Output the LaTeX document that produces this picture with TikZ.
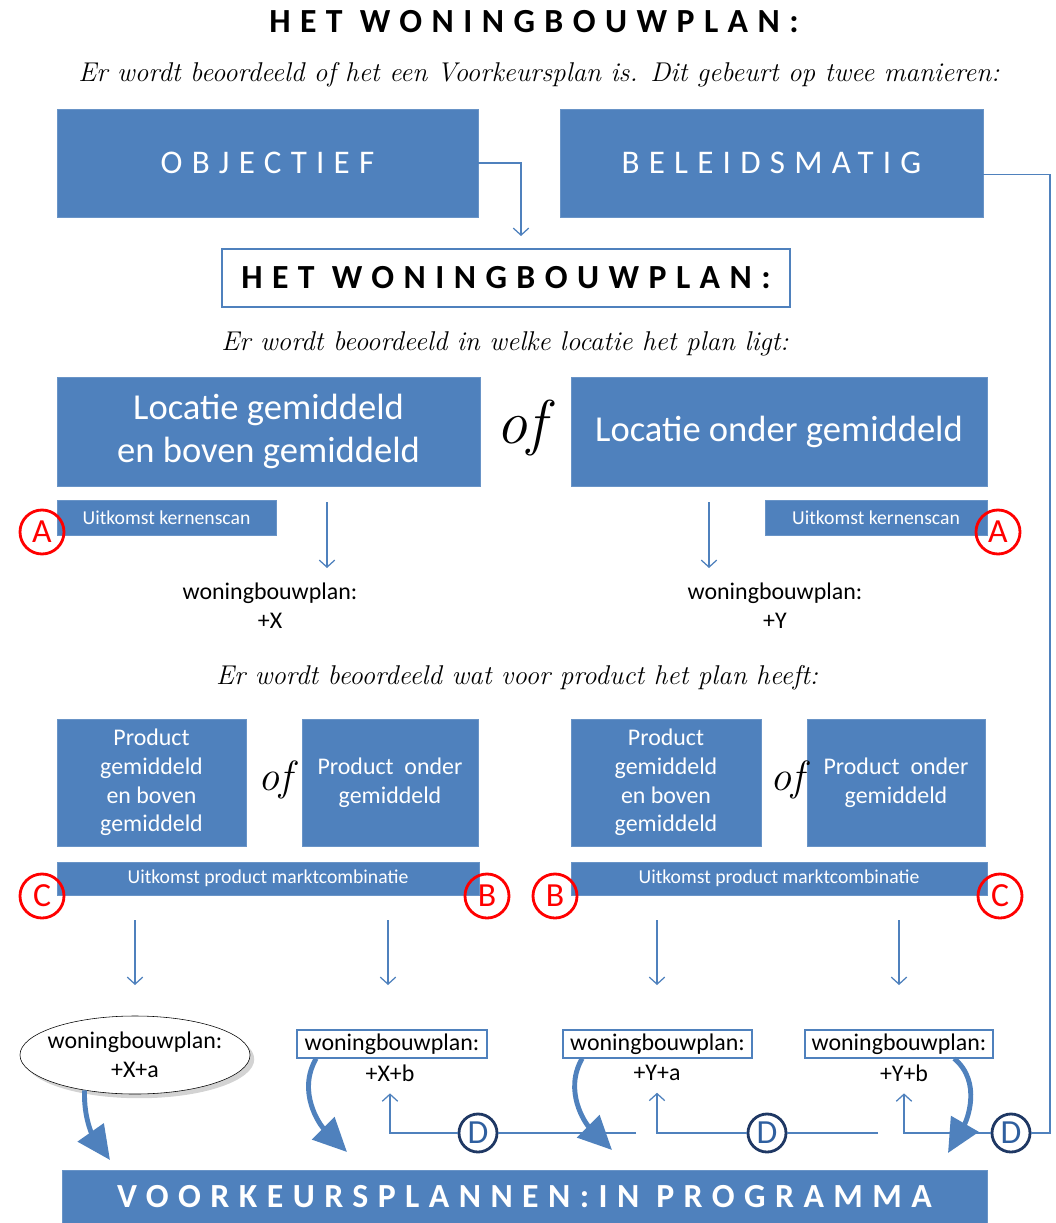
\documentclass[tikz,border=0pt]{standalone}
\usepackage{fontspec}
\usepackage{xcolor}
\usepackage{tikz}
\usetikzlibrary{arrows.meta}
\usetikzlibrary{shapes.geometric, shadows}
\newfontfamily\calibri{Carlito}
\newfontfamily\spatie[LetterSpace=28]{Carlito}
\definecolor{ofblauw}{HTML}{4F81BD}
\definecolor{marine}{HTML}{1F3864}
\definecolor{dblauw}{HTML}{2F5F9F}

\begin{document}
\begin{tikzpicture}[x=0.025cm, y=-0.025cm,
    blok/.style={fill=ofblauw, draw=ofblauw!85!white, text=white, inner sep=0pt, align=center},
    kader/.style={draw=ofblauw, line width=0.8pt, fill=white, inner sep=1pt},
    tekst/.style={font=\calibri\fontsize{17}{20.5}\selectfont, align=center},
    hand/.style={font=\itshape\fontsize{19.3}{22}\selectfont},
    lijn/.style={draw=ofblauw, line width=0.9pt},
    pijl/.style={lijn, -{Straight Barb[length=5pt, width=11pt]}},
    boog/.style={draw=ofblauw, line width=3.5pt, -{Triangle[length=24pt, width=22pt]}},
    rood/.style={circle, draw=red, line width=2pt, text=red, minimum size=1.1cm, inner sep=0pt, font=\calibri\fontsize{24}{24}\selectfont},
    dkring/.style={circle, draw=marine, line width=2pt, fill=white, text=dblauw, minimum size=0.95cm, inner sep=0pt, font=\calibri\fontsize{24}{24}\selectfont}]
    \useasboundingbox (0,0) rectangle (1056,1223);

    % Titel
    \node[font=\spatie\bfseries\fontsize{24}{28}\selectfont] (titel) at (534,22) {HET WONINGBOUWPLAN:};
    \node[hand] (vraag1) at (539,75) {Er wordt beoordeeld of het een Voorkeursplan is. Dit gebeurt op twee manieren:};

    % Twee manieren
    \node[blok, minimum width=10.525cm, minimum height=2.7cm, font=\spatie\fontsize{23.5}{28}\selectfont] (obj) at (267.5,163) {OBJECTIEF};
    \node[blok, minimum width=10.575cm, minimum height=2.7cm, font=\spatie\fontsize{23.5}{28}\selectfont] (bel) at (771.5,163) {BELEIDSMATIG};
    \node[kader, line width=1pt, minimum width=14.2cm, minimum height=1.45cm, font=\spatie\bfseries\fontsize{24}{28}\selectfont] (plan) at (506,278) {HET WONINGBOUWPLAN:};
    \coordinate (pin) at (521,236);
    \draw[pijl] (obj.east) -| (pin);

    % Locatie
    \node[hand] (vraag2) at (505,344) {Er wordt beoordeeld in welke locatie het plan ligt:};
    \node[blok, minimum width=10.575cm, minimum height=2.725cm, font=\calibri\fontsize{26}{31}\selectfont] (locboven) at (268.5,431.5) {Locatie gemiddeld\\en boven gemiddeld};
    \node[blok, minimum width=10.4cm, minimum height=2.725cm, font=\calibri\fontsize{26}{31}\selectfont] (loconder) at (779,431.5) {Locatie onder gemiddeld};
    \node[hand, font=\itshape\fontsize{44}{44}\selectfont] (of1) at (521,428) {of};
    \node[blok, minimum width=5.475cm, minimum height=0.875cm, font=\calibri\fontsize{14}{16}\selectfont] (scan1) at (166.5,517.5) {Uitkomst kernenscan};
    \node[blok, minimum width=5.55cm, minimum height=0.875cm, font=\calibri\fontsize{14}{16}\selectfont] (scan2) at (876,517.5) {Uitkomst kernenscan};
    \node[rood] (a1) at (42,532) {A};
    \node[rood] (a2) at (998,532) {A};
    \coordinate (l1) at (327,502);
    \coordinate (l2) at (327,568);
    \coordinate (r1) at (709,502);
    \coordinate (r2) at (709,568);
    \draw[pijl] (l1) -- (l2);
    \draw[pijl] (r1) -- (r2);
    \node[tekst] (uitx) at (270,606) {woningbouwplan:\\+X};
    \node[tekst] (uity) at (775,606) {woningbouwplan:\\+Y};

    % Product
    \node[hand] (vraag3) at (517,678) {Er wordt beoordeeld wat voor product het plan heeft:};
    \node[blok, minimum width=4.725cm, minimum height=3.175cm, font=\calibri\fontsize{17}{20.5}\selectfont] (pboven1) at (151.5,782.5) {Product\\gemiddeld\\en boven\\gemiddeld};
    \node[blok, minimum width=4.4cm, minimum height=3.175cm, font=\calibri\fontsize{17}{20.5}\selectfont] (ponder1) at (390,782.5) {Product\ \ onder\\gemiddeld};
    \node[blok, minimum width=4.75cm, minimum height=3.175cm, font=\calibri\fontsize{17}{20.5}\selectfont] (pboven2) at (666,782.5) {Product\\gemiddeld\\en boven\\gemiddeld};
    \node[blok, minimum width=4.45cm, minimum height=3.175cm, font=\calibri\fontsize{17}{20.5}\selectfont] (ponder2) at (896,782.5) {Product\ \ onder\\gemiddeld};
    \node[hand, font=\itshape\fontsize{30}{30}\selectfont] (of2) at (275,780) {of};
    \node[hand, font=\itshape\fontsize{30}{30}\selectfont] (of3) at (787,780) {of};
    \node[blok, minimum width=10.55cm, minimum height=0.825cm, font=\calibri\fontsize{14}{16}\selectfont] (markt1) at (268,878.5) {Uitkomst product marktcombinatie};
    \node[blok, minimum width=10.4cm, minimum height=0.825cm, font=\calibri\fontsize{14}{16}\selectfont] (markt2) at (779,878.5) {Uitkomst product marktcombinatie};
    \node[rood] (c1) at (42,896) {C};
    \node[rood] (b1) at (487,896) {B};
    \node[rood] (b2) at (555,896) {B};
    \node[rood] (c2) at (1000,896) {C};
    \foreach \x/\n in {135/1, 388/2, 657/3, 899/4} {
        \coordinate (pa\n) at (\x,920);
        \coordinate (pb\n) at (\x,985);
        \draw[pijl] (pa\n) -- (pb\n);
    }

    % Uitkomsten
    \node[ellipse, draw=black, fill=white, drop shadow={opacity=0.35, shadow xshift=3pt, shadow yshift=-3pt}, inner xsep=-12pt, inner ysep=-3pt, minimum width=5.75cm, minimum height=1.95cm, tekst] (xa) at (135,1055) {woningbouwplan:\\+X+a};
    \node[kader, minimum width=4.75cm, minimum height=0.7cm, tekst] (xbkop) at (392,1044) {woningbouwplan:};
    \node[tekst] (xb) at (390,1073) {+X+b};
    \node[kader, minimum width=4.725cm, minimum height=0.7cm, tekst] (yakop) at (657.5,1044) {woningbouwplan:};
    \node[tekst] (ya) at (657,1073) {+Y+a};
    \node[kader, minimum width=4.7cm, minimum height=0.7cm, tekst] (ybkop) at (899,1044) {woningbouwplan:};
    \node[tekst] (yb) at (904,1073) {+Y+b};

    % Terugkoppeling D
    \node[dkring] (d1) at (478,1133) {D};
    \node[dkring] (d2) at (767,1133) {D};
    \node[dkring] (d3) at (1011,1133) {D};
    \coordinate (e1) at (636,1133);
    \coordinate (e2) at (878,1133);
    \coordinate (hoek) at (1050,1133);
    \draw[pijl] (e1) -- (d1) -- (xb.south |- d1) -- ([yshift=-5pt]xb.south);
    \draw[pijl] (e2) -- (d2) -- (ya.south |- d2) -- ([yshift=-5pt]ya.south);
    \draw[pijl] ([yshift=-8pt]bel.east) -| (hoek) -- (d3) -- (yb.south |- d3) -- ([yshift=-5pt]yb.south);

    % Programma
    \node[blok, minimum width=23.125cm, minimum height=1.325cm, font=\spatie\bfseries\fontsize{24}{28}\selectfont] (prog) at (524.5,1196.5) {VOORKEURSPLANNEN:IN PROGRAMMA};
    \coordinate (t1) at (110,1160);
    \coordinate (t2) at (347,1152);
    \coordinate (t3) at (612,1150);
    \coordinate (t4) at (948,1153);
    \draw[boog] (xa.215) to[out=-92, in=125] (t1);
    \draw[boog] ([xshift=14pt]xbkop.south west) to[out=-120, in=135] (t2);
    \draw[boog] ([xshift=14pt]yakop.south west) to[out=-120, in=135] (t3);
    \draw[boog] ([xshift=-28pt]ybkop.south east) to[out=-40, in=60] (t4);
\end{tikzpicture}
\end{document}
